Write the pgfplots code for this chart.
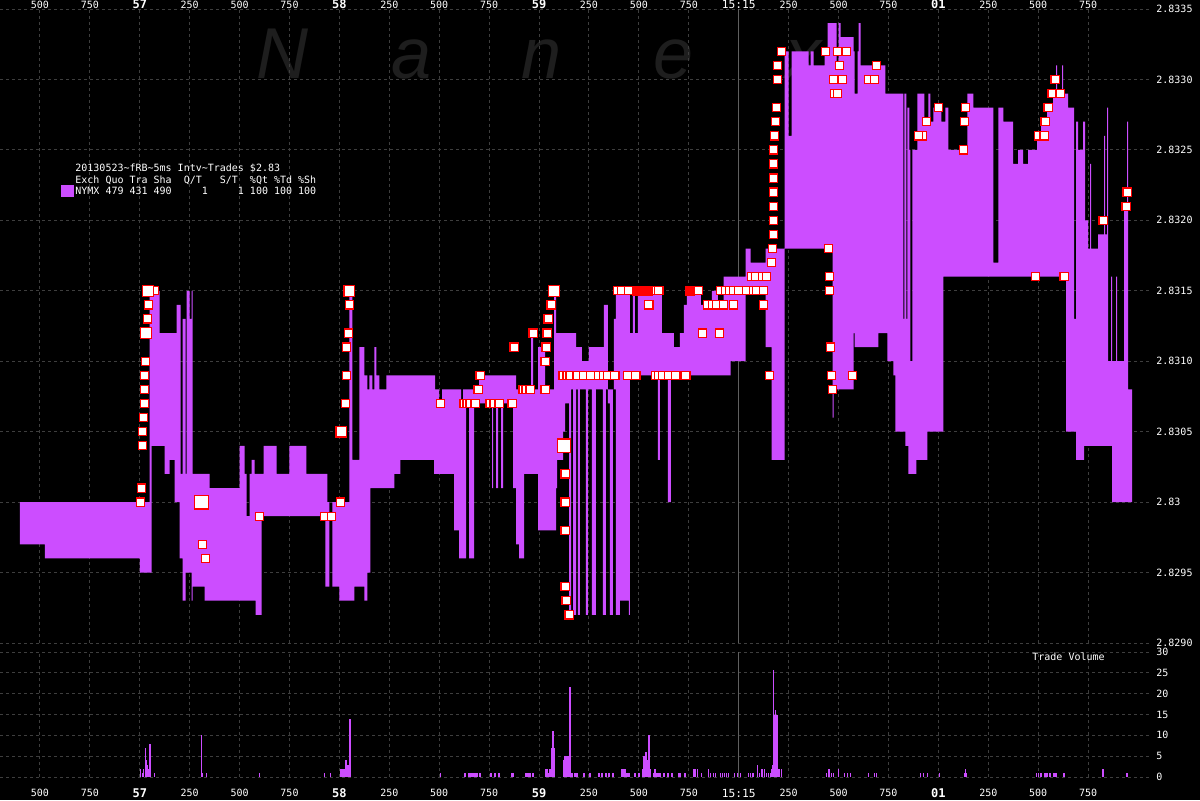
\documentclass[border=0pt]{standalone}
\usepackage{pgfplots}
\pgfplotsset{compat=1.18}
\usepgfplotslibrary{fillbetween}
\usepackage{pgfplotstable}
\usepackage{fontspec}
\setmainfont{DejaVu Sans}
\setmonofont{DejaVu Sans Mono}
\newfontfamily\wmfont{Liberation Sans}
\definecolor{band}{HTML}{CC4DFF}
\definecolor{gridc}{RGB}{62,62,62}
\definecolor{linec}{RGB}{95,95,95}
\definecolor{wm}{RGB}{30,30,30}
\newcommand{\bl}[1]{{\fontsize{6}{6}\selectfont\bfseries #1}}

\pgfplotstableread{
t a b
-600 2.8300 2.8297
-475 2.8300 2.8296
0 2.8300 2.8295
50 2.8315 2.8295
60 2.8315 2.8304
100 2.8312 2.8304
125 2.8312 2.8302
150 2.8312 2.8303
175 2.8312 2.8300
185 2.8314 2.8300
200 2.8314 2.8296
205 2.8302 2.8296
215 2.8313 2.8293
230 2.8302 2.8295
235 2.8315 2.8295
250 2.8313 2.8295
260 2.8315 2.8293
265 2.8302 2.8294
325 2.8302 2.8293
350 2.8301 2.8293
500 2.8304 2.8293
525 2.8302 2.8293
535 2.8299 2.8293
550 2.8302 2.8293
560 2.8303 2.8293
575 2.8302 2.8293
580 2.8302 2.8292
610 2.8302 2.8299
620 2.8304 2.8299
685 2.8302 2.8299
750 2.8304 2.8299
835 2.8302 2.8299
930 2.8302 2.8294
940 2.8300 2.8294
950 2.8300 2.8300
965 2.8300 2.8294
1000 2.8300 2.8293
1050 2.8315 2.8293
1065 2.8303 2.8293
1075 2.8303 2.8294
1100 2.8311 2.8294
1125 2.8309 2.8293
1140 2.8308 2.8295
1150 2.8309 2.8295
1155 2.8309 2.8301
1165 2.8308 2.8301
1175 2.8311 2.8301
1185 2.8309 2.8301
1200 2.8308 2.8301
1235 2.8309 2.8301
1275 2.8309 2.8302
1305 2.8309 2.8303
1475 2.8309 2.8302
1480 2.8308 2.8302
1500 2.8307 2.8302
1515 2.8308 2.8302
1575 2.8308 2.8298
1600 2.8308 2.8296
1610 2.8307 2.8296
1620 2.8308 2.8296
1635 2.8308 2.8307
1650 2.8308 2.8296
1675 2.8308 2.8307
1700 2.8309 2.8307
1765 2.8309 2.8301
1770 2.8309 2.8307
1785 2.8309 2.8301
1795 2.8309 2.8307
1810 2.8309 2.8301
1820 2.8309 2.8307
1870 2.8309 2.8301
1885 2.8308 2.8297
1900 2.8308 2.8296
1925 2.8308 2.8302
1960 2.8312 2.8302
1970 2.8308 2.8302
1995 2.8311 2.8298
2030 2.8308 2.8298
2075 2.8315 2.8298
2085 2.8312 2.8301
2090 2.8312 2.8303
2120 2.8312 2.8305
2130 2.8312 2.8307
2150 2.8312 2.8292
2160 2.8312 2.8308
2170 2.8312 2.8292
2185 2.8311 2.8308
2195 2.8311 2.8292
2205 2.8311 2.8308
2215 2.8310 2.8308
2235 2.8310 2.8292
2245 2.8310 2.8308
2250 2.8311 2.8308
2265 2.8311 2.8292
2285 2.8311 2.8308
2320 2.8311 2.8292
2325 2.8314 2.8292
2335 2.8314 2.8308
2345 2.8308 2.8307
2355 2.8308 2.8292
2370 2.8308 2.8308
2375 2.8313 2.8308
2385 2.8315 2.8292
2405 2.8315 2.8293
2450 2.8315 2.8292
2455 2.8312 2.8309
2470 2.8315 2.8309
2480 2.8312 2.8309
2495 2.8315 2.8309
2595 2.8315 2.8303
2605 2.8315 2.8309
2615 2.8312 2.8309
2645 2.8312 2.8300
2660 2.8312 2.8309
2675 2.8311 2.8309
2705 2.8312 2.8309
2725 2.8314 2.8309
2740 2.8315 2.8309
2810 2.8314 2.8309
2835 2.8314 2.8309
2865 2.8315 2.8309
2895 2.8314 2.8309
2925 2.8316 2.8309
2960 2.8316 2.8310
3035 2.8318 2.8315
3060 2.8317 2.8315
3135 2.8318 2.8311
3165 2.8318 2.8303
3230 2.8332 2.8318
3250 2.8326 2.8318
3265 2.8332 2.8318
3350 2.8331 2.8318
3360 2.8332 2.8318
3375 2.8331 2.8318
3430 2.8332 2.8318
3445 2.8334 2.8318
3470 2.8334 2.8306
3475 2.8334 2.8308
3490 2.8331 2.8308
3500 2.8334 2.8308
3510 2.8333 2.8308
3575 2.8332 2.8312
3580 2.8329 2.8311
3595 2.8332 2.8311
3600 2.8334 2.8311
3610 2.8331 2.8311
3700 2.8331 2.8312
3735 2.8329 2.8312
3745 2.8329 2.8310
3775 2.8329 2.8309
3785 2.8329 2.8305
3825 2.8313 2.8305
3830 2.8329 2.8305
3835 2.8329 2.8304
3840 2.8313 2.8304
3845 2.8328 2.8304
3850 2.8328 2.8302
3855 2.8325 2.8302
3860 2.8310 2.8302
3870 2.8325 2.8302
3890 2.8325 2.8303
3895 2.8329 2.8303
3930 2.8327 2.8303
3945 2.8327 2.8305
3950 2.8329 2.8305
3960 2.8327 2.8305
3975 2.8328 2.8305
4015 2.8327 2.8305
4025 2.8327 2.8316
4035 2.8328 2.8316
4050 2.8325 2.8316
4145 2.8329 2.8316
4175 2.8328 2.8316
4275 2.8317 2.8316
4300 2.8328 2.8316
4325 2.8327 2.8316
4375 2.8324 2.8316
4400 2.8325 2.8316
4425 2.8324 2.8316
4450 2.8325 2.8316
4495 2.8326 2.8316
4515 2.8327 2.8316
4545 2.8328 2.8316
4575 2.8329 2.8316
4590 2.8331 2.8316
4595 2.8329 2.8316
4620 2.8331 2.8316
4625 2.8329 2.8316
4640 2.8329 2.8305
4650 2.8328 2.8305
4680 2.8313 2.8305
4690 2.8327 2.8303
4700 2.8325 2.8303
4725 2.8327 2.8303
4730 2.8327 2.8304
4735 2.8320 2.8304
4750 2.8318 2.8304
4760 2.8324 2.8304
4765 2.8318 2.8304
4800 2.8319 2.8304
4830 2.8326 2.8304
4835 2.8319 2.8304
4845 2.8328 2.8304
4850 2.8310 2.8304
4865 2.8316 2.8304
4870 2.8310 2.8300
4890 2.8316 2.8300
4895 2.8310 2.8300
4930 2.8321 2.8300
4945 2.8327 2.8300
4950 2.8308 2.8300
4970 2.8308 2.8300
}\bandtab

\pgfplotstableread{
t p
75 2.8315
45 2.8314
40 2.8313
30 2.8310
25 2.8309
25 2.8308
25 2.8307
20 2.8306
15 2.8305
15 2.8304
10 2.8301
5 2.8300
315 2.8297
330 2.8296
600 2.8299
1050 2.8314
1045 2.8312
1035 2.8311
1035 2.8309
1030 2.8307
1005 2.8300
925 2.8299
960 2.8299
1505 2.8307
1625 2.8307
1640 2.8307
1655 2.8307
1680 2.8307
1755 2.8307
1775 2.8307
1800 2.8307
1865 2.8307
1695 2.8308
1705 2.8309
1875 2.8311
1970 2.8312
1920 2.8308
1935 2.8308
1955 2.8308
2060 2.8314
2045 2.8313
2040 2.8312
2035 2.8311
2030 2.8310
2030 2.8308
2130 2.8302
2130 2.8300
2130 2.8298
2130 2.8294
2135 2.8293
2150 2.8292
2120 2.8309
2140 2.8309
2155 2.8309
2190 2.8309
2225 2.8309
2260 2.8309
2300 2.8309
2325 2.8309
2345 2.8309
2380 2.8309
2445 2.8309
2485 2.8309
2585 2.8309
2600 2.8309
2620 2.8309
2650 2.8309
2685 2.8309
2735 2.8309
2395 2.8315
2415 2.8315
2450 2.8315
2575 2.8315
2600 2.8315
2765 2.8315
2800 2.8315
2910 2.8315
2935 2.8315
2955 2.8315
2975 2.8315
3000 2.8315
3040 2.8315
3075 2.8315
3090 2.8315
3125 2.8315
2550 2.8314
2845 2.8314
2870 2.8314
2890 2.8314
2925 2.8314
2975 2.8314
3125 2.8314
2820 2.8312
2905 2.8312
3065 2.8316
3085 2.8316
3120 2.8316
3140 2.8316
3165 2.8317
3170 2.8318
3155 2.8309
3215 2.8332
3195 2.8331
3195 2.8330
3190 2.8328
3185 2.8327
3180 2.8326
3175 2.8325
3175 2.8324
3175 2.8323
3175 2.8322
3175 2.8321
3175 2.8320
3175 2.8319
3435 2.8332
3495 2.8332
3540 2.8332
3505 2.8331
3475 2.8330
3520 2.8330
3690 2.8331
3650 2.8330
3680 2.8330
3480 2.8329
3495 2.8329
3450 2.8318
3455 2.8316
3455 2.8315
3460 2.8311
3465 2.8309
3470 2.8308
3570 2.8309
3920 2.8326
3900 2.8326
3940 2.8327
4000 2.8328
4135 2.8328
4130 2.8327
4125 2.8325
4585 2.8330
4570 2.8329
4610 2.8329
4550 2.8328
4535 2.8327
4500 2.8326
4530 2.8326
4485 2.8316
4630 2.8316
4825 2.8320
4940 2.8321
4945 2.8322
}\trades

\pgfplotstableread{
t p
40 2.8315
30 2.8312
1050 2.8315
1010 2.8305
2075 2.8315
}\tradesmid

\pgfplotstableread{
t p
310 2.8300
2125 2.8304
}\tradesbig

\pgfplotstableread{
t p
2490 2.8315
2510 2.8315
2530 2.8315
2545 2.8315
2755 2.8315
}\tradesred

\pgfplotstableread{
t v
5 2
12.5 1
20 2
27.5 7
32.5 4
37.5 3
42.5 2
47.5 7
51.5 8
55 2
75 1
310 10
315 1
335 1
600 1
925 1
955 1
1005 2
1010 2
1015 2
1020 2
1025 2
1030 4
1035 4
1040 3
1045 3
1052.5 14
1505 1
1630 1
1650 1
1660 1
1670 1
1680 1
1690 1
1705 1
1760 1
1780 1
1800 1
1865 1
1870 1
1935 1
1945 1
1955 1
1970 1
2035 2
2040 2
2045 1
2055 2
2060 2
2065 7
2070 11
2075 7
2125 4
2130 5
2135 5
2140 5
2145 5
2150 5
2155 21.5
2160 1
2165 1
2180 1
2190 1
2225 1
2255 1
2300 1
2315 1
2335 1
2350 1
2370 1
2415 2
2420 2
2425 2
2430 2
2435 1
2440 1
2450 1
2480 1
2500 1
2520 2
2525 5
2530 5
2535 6
2540 4
2545 4
2550 10
2555 2
2575 1
2580 2
2590 1
2600 1
2605 1
2625 1
2645 1
2665 1
2700 1
2705 1
2730 1
2775 2
2780 2
2785 2
2795 2
2815 1
2850 2
2860 1
2875 1
2885 1
2910 1
2920 1
2930 1
2940 1
2950 1
2980 1
2995 1
3010 1
3050 1
3060 1
3070 1
3075 1
3095 3
3105 1
3115 2
3120 2
3130 2
3140 1
3150 1
3160 1
3165 2
3170 3
3175 25.7
3180 15
3185 16
3190 15
3195 15
3200 2
3205 2
3215 2
3440 1
3450 2
3455 2
3465 1
3475 1
3500 2
3530 1
3545 1
3560 1
3650 1
3680 1
3690 1
3910 1
3925 1
3945 1
4005 1
4130 1
4135 2
4140 1
4490 1
4500 1
4515 1
4535 1
4545 1
4560 1
4580 1
4590 1
4630 1
4825 2
4945 1
}\voltab

\pgfplotsset{
 nanex/.style={
  scale only axis, width=575pt, xmin=-700, xmax=5060,
  axis line style={draw=none}, major tick length=0pt,
  xtick={-500,-250,0,250,500,750,1000,1250,1500,1750,2000,2250,2500,2750,3000,3250,3500,3750,4000,4250,4500,4750},
  xticklabels={500,750,\bl{57},250,500,750,\bl{58},250,500,750,\bl{59},250,500,750,{\fontsize{5.6}{6}\selectfont 15:15},250,500,750,\bl{01},250,500,750},
  grid=major,
  major grid style={draw=gridc, dash pattern=on 1.5pt off 1.5pt, line width=0.5pt},
  ticklabel style={font=\ttfamily\fontsize{5}{5}\selectfont, text=white, inner sep=0pt},
  yticklabel pos=right,
  yticklabel style={anchor=west, inner sep=0pt, xshift=3pt},
  extra x ticks={3000}, extra x tick labels={},
  extra x tick style={grid=major, major grid style={solid, draw=linec, line width=0.5pt}},
 }
}

\begin{document}%
\pagecolor{black}%
\frenchspacing%
\raisebox{0pt}[400pt][0pt]{%
\begin{tikzpicture}[baseline=0pt, trim left=0pt, trim right=600pt]
\path (0,0) rectangle (600pt,400pt);
\begin{axis}[nanex, set layers,
  at={(0pt,78.5pt)}, anchor=south west, height=317pt,
  ymin=2.8290, ymax=2.8335,
  xticklabel pos=upper,
  xticklabel style={anchor=center, yshift=2.2pt},
  ytick={2.8290,2.8295,2.8300,2.8305,2.8310,2.8315,2.8320,2.8325,2.8330,2.8335},
  yticklabels={2.8290,2.8295,2.83,2.8305,2.8310,2.8315,2.8320,2.8325,2.8330,2.8335},
]
\begin{pgfonlayer}{axis background}
\begin{scope}[every node/.style={text=wm, font=\wmfont\itshape\fontsize{36}{36}\selectfont, anchor=base, inner sep=0pt}]
\node at (rel axis cs:0.246,0.891) {N};
\node at (rel axis cs:0.358,0.891) {a};
\node at (rel axis cs:0.471,0.891) {n};
\node at (rel axis cs:0.586,0.891) {e};
\node at (rel axis cs:0.699,0.891) {x};
\end{scope}
\end{pgfonlayer}
\addplot[name path=ask, draw=none, const plot] table[x=t, y=a] {\bandtab};
\addplot[name path=bid, draw=none, const plot] table[x=t, y=b] {\bandtab};
\addplot[fill=band, draw=none] fill between[of=ask and bid];
\addplot[only marks, mark=square*, mark size=2.05pt, mark options={fill=white, draw=red, line width=0.6pt}] table[x=t, y=p] {\trades};
\addplot[only marks, mark=square*, mark size=2.7pt, mark options={fill=white, draw=red, line width=0.6pt}] table[x=t, y=p] {\tradesmid};
\addplot[only marks, mark=square*, mark size=3.4pt, mark options={fill=white, draw=red, line width=0.6pt}] table[x=t, y=p] {\tradesbig};
\addplot[only marks, mark=square*, mark size=2.2pt, mark options={fill=red, draw=red, line width=0.5pt}] table[x=t, y=p] {\tradesred};
\end{axis}

\begin{axis}[nanex,
  at={(0pt,11.5pt)}, anchor=south west, height=62.5pt,
  ymin=0, ymax=30,
  xticklabel pos=lower,
  xticklabel style={anchor=center, yshift=-8pt},
  ytick={0,5,10,15,20,25,30},
  yticklabels={0,5,10,15,20,25,30},
]
\addplot[ycomb, draw=band, line width=0.7pt, mark=none] table[x=t, y=v] {\voltab};
\end{axis}

\node[anchor=west, text=white, inner sep=0pt, font=\ttfamily\fontsize{5}{5}\selectfont] at (516pt,71.5pt) {Trade Volume};
\begin{scope}[every node/.style={anchor=west, text=white, inner sep=0pt, font=\ttfamily\fontsize{5}{5}\selectfont}]
\node at (37.5pt,316pt) {20130523\textasciitilde fRB\textasciitilde 5ms Intv\textasciitilde Trades \$2.83};
\node at (37.5pt,310pt) {Exch Quo Tra Sha\ \ Q/T\ \ \ S/T\ \ \%Qt \%Td \%Sh};
\node at (37.5pt,304.5pt) {NYMX 479 431 490\ \ \ \ \ 1\ \ \ \ \ 1 100 100 100};
\end{scope}
\fill[band] (30.5pt,301.5pt) rectangle (37pt,307.5pt);
\end{tikzpicture}}%
\end{document}
